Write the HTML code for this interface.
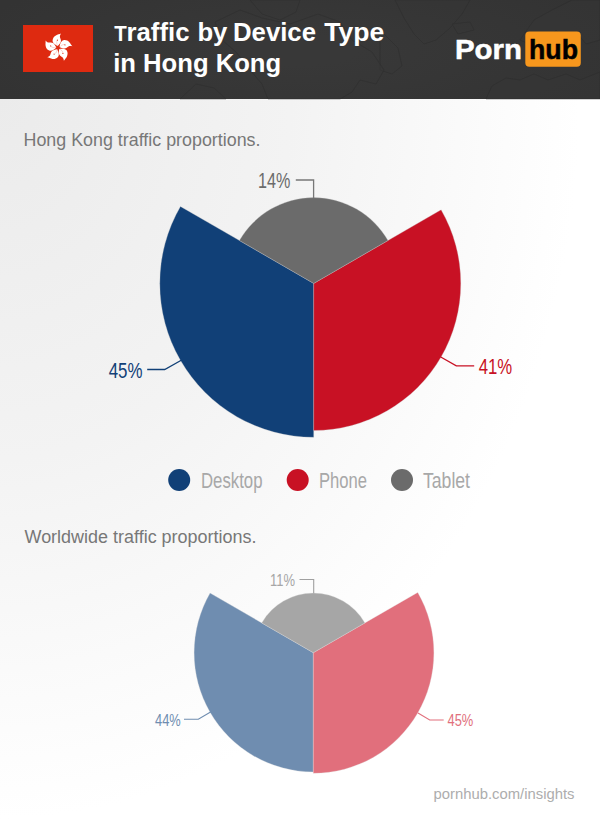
<!DOCTYPE html>
<html><head><meta charset="utf-8">
<style>
html,body{margin:0;padding:0;}
body{width:600px;height:832px;overflow:hidden;background:#fff;font-family:"Liberation Sans",sans-serif;}
svg{display:block;}
text{font-family:"Liberation Sans",sans-serif;}
</style></head><body>
<svg width="600" height="832" viewBox="0 0 600 832">
<defs>
<radialGradient id="bg" gradientUnits="userSpaceOnUse" cx="0" cy="0" r="1" gradientTransform="translate(0,99) scale(580,720)">
<stop offset="0" stop-color="#ebebeb"/><stop offset="0.5" stop-color="#f3f3f3"/><stop offset="1" stop-color="#ffffff"/>
</radialGradient>
<radialGradient id="hd" gradientUnits="userSpaceOnUse" cx="0" cy="0" r="1" gradientTransform="translate(300,50) scale(340,90)">
<stop offset="0" stop-color="#393939"/><stop offset="1" stop-color="#333333"/>
</radialGradient>
</defs>
<rect x="0" y="0" width="600" height="832" fill="#fff"/>
<rect x="0" y="99" width="600" height="733" fill="url(#bg)"/>
<!-- header -->
<rect x="0" y="0" width="600" height="99" fill="url(#hd)"/>
<g id="map" fill="#383838" fill-opacity="0.5" stroke="#2b2b2b" stroke-width="0.7" opacity="0.6">
<path d="M395,0 L470,0 L462,14 L450,28 L436,40 L424,44 L414,34 L404,18 Z"/>
<path d="M452,24 L470,22 L474,30 L458,34 Z"/>
<path d="M380,30 L398,48 L402,66 L392,74 L380,70 Z"/>
<path d="M486,99 L492,86 L506,78 L520,80 L534,74 L548,80 L566,74 L580,80 L600,72 L600,99 Z"/>
<path d="M520,40 L534,20 L552,10 L572,0 L600,0 L600,40 L586,44 L578,34 L566,40 L556,30 L546,42 L534,46 Z"/>
<path d="M180,99 L196,84 L214,88 L226,99 Z"/>
<path d="M250,0 L300,0 L296,12 L280,20 L262,14 Z"/>
<path d="M215,22 L240,10 L262,18 L290,24 L318,14 L340,22 L352,40 L372,52 L384,70 L376,84 L360,80 L352,92 L340,99 L268,99 L262,84 L250,70 L236,52 L222,40 Z"/>
</g>
<rect x="23" y="25" width="70" height="47" fill="#de2a10"/>
<g id="flower" transform="translate(58,47.7)">
<g id="pet"><path fill="#fff" d="M-0.3,-1.7 C-2.6,-2.9 -5.7,-4.9 -5.4,-7.5 C-5.1,-9.9 -3.8,-11.3 -2.1,-12.3 C-0.5,-13.3 1.6,-13.3 3,-14.1 C1.6,-11.9 1.7,-10.7 2.4,-9.3 C3.4,-7.3 3,-5.5 1.9,-4.1 C1.2,-3.2 0.6,-2.3 -0.3,-1.7Z"/><circle cx="-0.6" cy="-7.5" r="0.6" fill="#de2a10"/><path d="M-0.3,-2 C-1.4,-3.5 -1.6,-5.5 -1,-7" fill="none" stroke="#de2a10" stroke-width="0.3" opacity="0.6"/></g>
<use href="#pet" transform="rotate(72)"/><use href="#pet" transform="rotate(144)"/><use href="#pet" transform="rotate(216)"/><use href="#pet" transform="rotate(288)"/>
</g>
<g font-size="25" font-weight="bold" fill="#fff" lengthAdjust="spacingAndGlyphs">
<text x="114.3" y="41" font-size="22" textLength="12.5" lengthAdjust="spacingAndGlyphs">T</text>
<text x="126.5" y="41" textLength="63" lengthAdjust="spacingAndGlyphs">raffic</text>
<text x="197.4" y="41" textLength="30" lengthAdjust="spacingAndGlyphs">by</text>
<text x="233" y="41" textLength="83" lengthAdjust="spacingAndGlyphs">Device</text>
<text x="324.2" y="41" textLength="60" lengthAdjust="spacingAndGlyphs">Type</text>
</g>
<text x="113.2" y="72" font-size="25" font-weight="bold" fill="#fff" textLength="168" lengthAdjust="spacingAndGlyphs">in Hong Kong</text>
<text x="455" y="58.7" font-size="28.5" font-weight="bold" fill="#fff" stroke="#fff" stroke-width="0.5" textLength="67" lengthAdjust="spacingAndGlyphs">Porn</text>
<rect x="525.3" y="31.5" width="55.5" height="35.2" rx="4" fill="#f7971d"/>
<text x="529" y="58.7" font-size="28.5" font-weight="bold" fill="#000" stroke="#000" stroke-width="0.5" textLength="49" lengthAdjust="spacingAndGlyphs">hub</text>

<text x="23.5" y="145.5" font-size="17.5" fill="#777" textLength="237" lengthAdjust="spacingAndGlyphs">Hong Kong traffic proportions.</text>
<text x="24.5" y="542.5" font-size="17.5" fill="#777" textLength="232" lengthAdjust="spacingAndGlyphs">Worldwide traffic proportions.</text>

<!-- chart 1 -->
<g id="c1" stroke="#c8c8c8" stroke-width="0.5" stroke-opacity="0.6">
<path d="M313.7,283.4 L313.70,437.30 A153.9,153.9 0 0 1 180.42,206.45 Z" fill="#114077"/>
<path d="M313.7,283.4 L441.09,209.85 A147.1,147.1 0 0 1 313.70,430.50 Z" fill="#c81124"/>
<path d="M313.7,283.4 L239.40,240.50 A85.8,85.8 0 0 1 388.00,240.50 Z" fill="#6b6b6b"/>
</g>
<!-- chart 2 -->
<g id="c2" stroke="#e0e0e0" stroke-width="0.5" stroke-opacity="0.6">
<path d="M313.3,652.7 L313.30,771.90 A119.2,119.2 0 0 1 210.07,593.10 Z" fill="#6f8db0"/>
<path d="M313.3,652.7 L417.74,592.40 A120.6,120.6 0 0 1 313.30,773.30 Z" fill="#e16f7c"/>
<path d="M313.3,652.7 L261.68,622.90 A59.6,59.6 0 0 1 364.92,622.90 Z" fill="#a6a6a6"/>
</g>
<!-- labels -->
<g fill="none" stroke-width="1.3">
<path d="M295.8,180 H313.6 V198" stroke="#777"/>
<path d="M147.2,369.5 H164.7 L181.7,360" stroke="#114077"/>
<path d="M440.3,356.7 L456.3,365.8 H474.2" stroke="#c81124"/>
</g>
<g fill="none" stroke-width="1.1">
<path d="M299.5,579.5 H313.7 V593.3" stroke="#a0a0a0"/>
<path d="M184,719.3 H198.3 L211,711.7" stroke="#6f8db0"/>
<path d="M418,713 L429.7,720 H443.7" stroke="#e16f7c"/>
</g>
<text x="258" y="187.7" font-size="21.9" fill="#6b6b6b" textLength="32.3" lengthAdjust="spacingAndGlyphs">14%</text>
<text x="108.7" y="377.7" font-size="21.9" fill="#114077" textLength="33.8" lengthAdjust="spacingAndGlyphs">45%</text>
<text x="478.7" y="373.8" font-size="21.9" fill="#c81124" textLength="33.5" lengthAdjust="spacingAndGlyphs">41%</text>
<text x="270" y="586.2" font-size="16.3" fill="#a6a6a6" textLength="25" lengthAdjust="spacingAndGlyphs">11%</text>
<text x="155" y="726" font-size="16.3" fill="#6f8db0" textLength="25.7" lengthAdjust="spacingAndGlyphs">44%</text>
<text x="447.5" y="725.8" font-size="16.3" fill="#e16f7c" textLength="25.8" lengthAdjust="spacingAndGlyphs">45%</text>
<!-- legend -->
<circle cx="179.2" cy="480" r="11" fill="#114077"/>
<circle cx="297.7" cy="480" r="11" fill="#c81124"/>
<circle cx="402" cy="480" r="11" fill="#6b6b6b"/>
<text x="201" y="487.6" font-size="21.6" fill="#a8a8a8" textLength="61.5" lengthAdjust="spacingAndGlyphs">Desktop</text>
<text x="319" y="487.6" font-size="21.6" fill="#a8a8a8" textLength="48" lengthAdjust="spacingAndGlyphs">Phone</text>
<text x="423" y="487.6" font-size="21.6" fill="#a8a8a8" textLength="47" lengthAdjust="spacingAndGlyphs">Tablet</text>
<text x="433.5" y="799" font-size="15.4" fill="#adadad" textLength="141" lengthAdjust="spacingAndGlyphs">pornhub.com/insights</text>
</svg>
</body></html>
